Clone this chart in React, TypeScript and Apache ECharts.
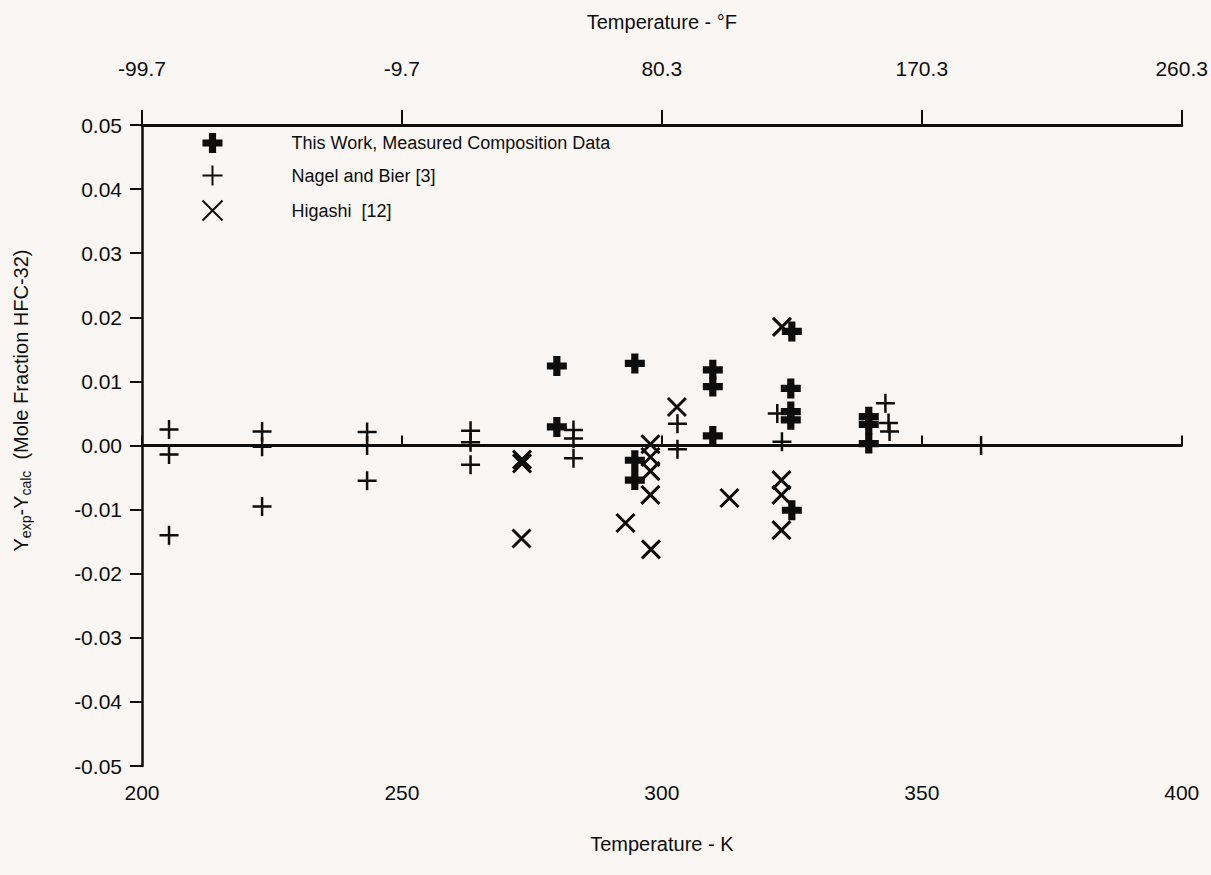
import React, { useEffect, useRef } from "react";
import * as echarts from "echarts";

const xTicksK = [200, 250, 300, 350, 400];
const yTicks = [-0.05, -0.04, -0.03, -0.02, -0.01, 0, 0.01, 0.02, 0.03, 0.04, 0.05];

const seriesNames = ["This Work, Measured Composition Data", "Nagel and Bier [3]", "Higashi  [12]"];

const thisWorkT = [279.8, 279.8, 294.8, 294.8, 294.8, 309.8, 309.8, 309.8, 325.0, 324.8, 324.8, 324.8, 325.0, 339.8, 339.8, 339.8];
const thisWorkD = [0.0124, 0.0029, 0.0128, -0.0023, -0.0054, 0.0118, 0.0092, 0.0015, 0.0178, 0.0089, 0.0053, 0.004, -0.0101, 0.0045, 0.0033, 0.0003];

const nagelT = [205.2, 205.2, 205.2, 223.1, 223.1, 223.1, 243.3, 243.3, 243.3, 263.2, 263.2, 263.2, 283.0, 283.0, 283.0, 303.0, 303.0, 322.2, 323.1, 343.0, 343.6, 343.8, 361.4];
const nagelD = [0.0025, -0.0014, -0.014, 0.0022, -0.0002, -0.0095, 0.0021, 0.0, -0.0055, 0.0023, 0.0005, -0.003, 0.0024, 0.0011, -0.002, 0.0034, -0.0006, 0.005, 0.0006, 0.0066, 0.0035, 0.0022, 0.0];

const higashiT = [273.1, 273.1, 273.0, 293.0, 297.8, 297.8, 297.8, 297.8, 297.9, 302.9, 313.0, 323.1, 323.0, 323.0, 323.0];
const higashiD = [-0.0022, -0.0028, -0.0145, -0.0121, 0.0002, -0.0018, -0.004, -0.0077, -0.0162, 0.006, -0.0082, 0.0185, -0.0054, -0.0077, -0.0132];

const zip = (a: number[], b: number[]) => a.map((v, i) => [v, b[i]]);
const kToF = (k: number) => ((k - 273.15) * 9) / 5 + 32;

const INK = "#0d0d0d";
const FONT = "Liberation Sans";
const TICK_FS = 21;
const NAME_FS = 20;

const CROSS_FILLED = "path://M3.2,0 L6.8,0 L6.8,3.2 L10,3.2 L10,6.8 L6.8,6.8 L6.8,10 L3.2,10 L3.2,6.8 L0,6.8 L0,3.2 L3.2,3.2 Z";
const PLUS = "path://M5,0 L5,10 M0,5 L10,5";
const XMARK = "path://M0,0 L10,10 M10,0 L0,10";

export default function App() {
  const ref = useRef<HTMLDivElement>(null);
  useEffect(() => {
    if (!ref.current) return;
    const chart = echarts.init(ref.current, null, { renderer: "svg" });
    chart.setOption({
      animation: false,
      backgroundColor: "#faf6f3",
      textStyle: { fontFamily: FONT, color: INK },
      grid: { left: 142, right: 29, top: 125, bottom: 109 },
      legend: {
        orient: "vertical",
        left: 195,
        top: 128,
        itemWidth: 20,
        itemHeight: 20,
        itemGap: 10,
        selectedMode: false,
        data: seriesNames,
        textStyle: { fontFamily: FONT, fontSize: 18, color: INK, padding: [0, 0, 0, 64] },
      },
      xAxis: [
        {
          type: "value",
          position: "bottom",
          min: xTicksK[0],
          max: xTicksK[xTicksK.length - 1],
          interval: 50,
          name: "Temperature - K",
          nameLocation: "middle",
          nameGap: 68,
          nameTextStyle: { fontFamily: FONT, fontSize: NAME_FS, color: INK },
          axisLine: { show: true, lineStyle: { color: INK, width: 2.5 } },
          axisTick: { show: true, inside: true, length: 10, lineStyle: { color: INK, width: 2 } },
          axisLabel: { fontFamily: FONT, fontSize: TICK_FS, color: INK, margin: 16 },
          splitLine: { show: false },
        },
        {
          type: "value",
          position: "top",
          min: xTicksK[0],
          max: xTicksK[xTicksK.length - 1],
          interval: 50,
          name: "Temperature - °F",
          nameLocation: "middle",
          nameGap: 93,
          nameTextStyle: { fontFamily: FONT, fontSize: NAME_FS, color: INK },
          axisLine: { show: true, lineStyle: { color: INK, width: 3 } },
          axisTick: { show: true, inside: false, length: 15, lineStyle: { color: INK, width: 2 } },
          axisLabel: {
            fontFamily: FONT,
            fontSize: TICK_FS,
            color: INK,
            margin: 46,
            formatter: (v: number) => kToF(v).toFixed(1),
          },
          splitLine: { show: false },
        },
      ],
      yAxis: {
        type: "value",
        min: yTicks[0],
        max: yTicks[yTicks.length - 1],
        interval: 0.01,
        name: "{m|Y}{s|exp}{m|-Y}{s|calc}{m|  (Mole Fraction HFC-32)}",
        nameLocation: "middle",
        nameGap: 108,
        nameRotate: 90,
        nameTextStyle: {
          fontFamily: FONT,
          color: INK,
          padding: [0, 0, 0, 90],
          rich: {
            m: { fontFamily: FONT, fontSize: NAME_FS, color: INK, lineHeight: 26 },
            s: { fontFamily: FONT, fontSize: 14, color: INK, lineHeight: 26, padding: [10, 0, 0, 0] },
          },
        },
        axisLine: { show: true, lineStyle: { color: INK, width: 2.5 } },
        axisTick: { show: true, inside: false, length: 12, lineStyle: { color: INK, width: 2 } },
        axisLabel: {
          fontFamily: FONT,
          fontSize: TICK_FS,
          color: INK,
          margin: 20,
          formatter: (v: number) => v.toFixed(2),
        },
        splitLine: { show: false },
      },
      series: [
        {
          name: seriesNames[0],
          type: "scatter",
          data: zip(thisWorkT, thisWorkD),
          symbol: CROSS_FILLED,
          symbolSize: 20,
          itemStyle: { color: INK, opacity: 1 },
          z: 3,
          markLine: {
            silent: true,
            symbol: ["none", "none"],
            label: { show: false },
            lineStyle: { color: INK, width: 3, type: "solid" },
            data: [{ yAxis: 0 }],
          },
        },
        {
          name: seriesNames[1],
          type: "scatter",
          data: zip(nagelT, nagelD),
          symbol: PLUS,
          symbolSize: 19,
          itemStyle: { color: "none", borderColor: INK, borderWidth: 2.5, opacity: 1 },
          z: 4,
        },
        {
          name: seriesNames[2],
          type: "scatter",
          data: zip(higashiT, higashiD),
          symbol: XMARK,
          symbolSize: 18,
          itemStyle: { color: "none", borderColor: INK, borderWidth: 3, opacity: 1 },
          z: 4,
        },
      ],
    });
    return () => chart.dispose();
  }, []);
  return (
    <div
      ref={ref}
      style={{ position: "fixed", left: 0, top: 0, width: 1211, height: 875 }}
    />
  );
}
